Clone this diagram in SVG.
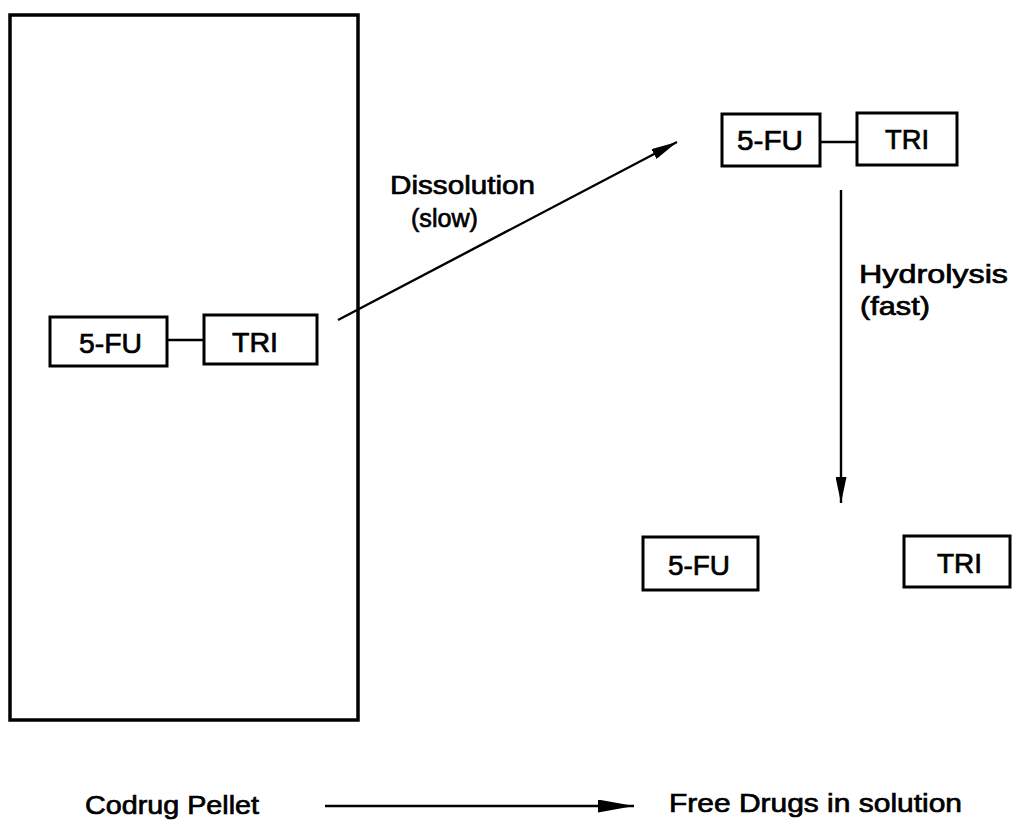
<svg xmlns="http://www.w3.org/2000/svg" width="1013" height="830" viewBox="0 0 1013 830">
<style>
text{font-family:"Liberation Sans",Arial,sans-serif;fill:#000;stroke:#000;stroke-width:0.7;}
.box{fill:#fff;stroke:#000;stroke-width:3;}
.lbl{font-size:26px;}
.bt{font-size:28px;}
.ln{stroke:#000;stroke-width:2.4;fill:none;}
</style>
<defs>
<marker id="ah" viewBox="0 0 26 11" refX="26" refY="5.5" markerWidth="26" markerHeight="11" markerUnits="userSpaceOnUse" orient="auto">
<path d="M0,0 L26,5.5 L0,11 Z" fill="#000"/>
</marker>
<marker id="ah2" viewBox="0 0 36 13" refX="36" refY="6.5" markerWidth="36" markerHeight="13" markerUnits="userSpaceOnUse" orient="auto">
<path d="M0,0 L36,6.5 L0,13 Z" fill="#000"/>
</marker>
</defs>
<rect width="1013" height="830" fill="#fff"/>
<g id="pellet">
<rect x="10" y="15" width="348" height="705" fill="none" stroke="#000" stroke-width="3.5"/>
</g>
<g id="pellet-fu">
<rect class="box" x="50" y="317" width="117" height="49"/>
<text class="bt" x="79" y="353" textLength="63" lengthAdjust="spacingAndGlyphs">5-FU</text>
</g>
<g id="pellet-tri">
<rect class="box" x="204" y="315" width="113" height="49"/>
<text class="bt" x="232" y="352" textLength="46" lengthAdjust="spacingAndGlyphs">TRI</text>
</g>
<g id="sol-fu">
<rect class="box" x="722" y="114" width="98" height="52"/>
<text class="bt" x="737" y="150" textLength="66" lengthAdjust="spacingAndGlyphs">5-FU</text>
</g>
<g id="sol-tri">
<rect class="box" x="857" y="113" width="100" height="52"/>
<text class="bt" x="885" y="149" textLength="44" lengthAdjust="spacingAndGlyphs">TRI</text>
</g>
<g id="free-fu">
<rect class="box" x="643" y="537" width="115" height="53"/>
<text class="bt" x="668" y="575" textLength="62" lengthAdjust="spacingAndGlyphs">5-FU</text>
</g>
<g id="free-tri">
<rect class="box" x="904" y="536" width="106" height="51"/>
<text class="bt" x="937" y="573" textLength="45" lengthAdjust="spacingAndGlyphs">TRI</text>
</g>
<g id="labels">
<text class="lbl" x="390" y="194" textLength="145" lengthAdjust="spacingAndGlyphs">Dissolution</text>
<text class="lbl" x="411" y="227" textLength="67" lengthAdjust="spacingAndGlyphs">(slow)</text>
<text class="lbl" x="859" y="283" textLength="149" lengthAdjust="spacingAndGlyphs">Hydrolysis</text>
<text class="lbl" x="860" y="315" textLength="70" lengthAdjust="spacingAndGlyphs">(fast)</text>
<text class="lbl" x="85" y="814" textLength="174" lengthAdjust="spacingAndGlyphs">Codrug Pellet</text>
<text class="lbl" x="669" y="812" textLength="293" lengthAdjust="spacingAndGlyphs">Free Drugs in solution</text>
</g>
<g id="connectors">
<line class="ln" x1="167" y1="340" x2="204" y2="340"/>
<line class="ln" x1="820" y1="142" x2="857" y2="142"/>
<line class="ln" x1="338" y1="320" x2="677" y2="142" marker-end="url(#ah)"/>
<line class="ln" x1="841" y1="190" x2="841" y2="503" marker-end="url(#ah)"/>
<line class="ln" x1="325" y1="806" x2="634" y2="806" marker-end="url(#ah2)"/>
</g>
</svg>
